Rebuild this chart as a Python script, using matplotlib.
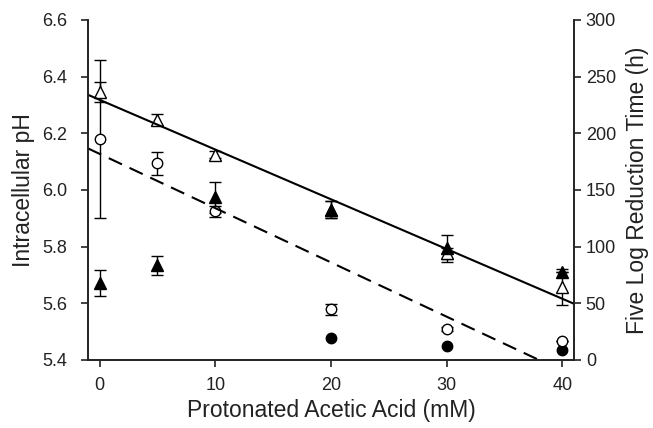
import matplotlib.pyplot as plt
import numpy as np

plt.rcParams['font.family'] = ['Liberation Sans', 'DejaVu Sans']

# acetic acid concentrations (mM)
conc = [0, 5, 10, 20, 30, 40]
conc_fc = [20, 30, 40]

# intracellular pH series
open_tri = [6.345, 6.248, 6.125, 5.93, 5.776, 5.657]
open_tri_err = [0.035, 0.02, 0.012, 0.03, 0.02, 0.063]
filled_tri = [5.672, 5.734, 5.975, 5.93, 5.794, 5.71]
filled_tri_err = [0.045, 0.033, 0.055, 0.03, 0.047, 0.0]
open_circ = [6.18, 6.094, 5.925, 5.579, 5.51, 5.468]
open_circ_err = [0.28, 0.04, 0.02, 0.02, 0.008, 0.0]
filled_circ = [5.479, 5.45, 5.437]

# regression lines for reduction time (h) : intercept, slope
solid_fit = (229.6, -4.39)
dashed_fit = (181.9, -4.79)

fig = plt.figure(figsize=(6.53, 4.28), dpi=100)
ax = fig.add_axes([88/653, 1-360/428, (574-88)/653, 340/428])
ax2 = ax.twinx()

ebkw = dict(ecolor='black', elinewidth=1, capsize=4, capthick=1, linestyle='none')
ax.errorbar(conc, open_circ, yerr=open_circ_err, marker='o', ms=7.5, mfc='white', mec='black', mew=1, **ebkw)
ax.errorbar(conc, open_tri, yerr=open_tri_err, marker='^', ms=8, mfc='white', mec='black', mew=1, **ebkw)
ax.errorbar(conc, filled_tri, yerr=filled_tri_err, marker='^', ms=8, mfc='black', mec='black', mew=1, **ebkw)
ax.plot(conc_fc, filled_circ, 'o', ms=7.5, color='black')

xl = np.array([-1, 41])
ax2.plot(xl, solid_fit[0] + solid_fit[1]*xl, color='black', lw=1.5)
ax2.plot(xl, dashed_fit[0] + dashed_fit[1]*xl, color='black', lw=1.5, dashes=(7, 4))

ax.set_xlim(-1, 41)
ax.set_ylim(5.4, 6.6)
ax2.set_ylim(0, 300)
ax.set_xticks([0, 10, 20, 30, 40])
ax.set_yticks(np.arange(5.4, 6.61, 0.2))
ax.set_yticklabels(['5.4', '5.6', '5.8', '6.0', '6.2', '6.4', '6.6'])
ax2.set_yticks(range(0, 301, 50))

for a in (ax, ax2):
    a.spines['top'].set_visible(False)
    for s in a.spines.values():
        s.set_linewidth(1.2)
        s.set_color('#222222')
    a.tick_params(direction='out', length=5, width=1.2, labelsize=13, colors='#222222')
ax.tick_params(axis='x', pad=7)
ax.tick_params(axis='y', pad=10)

ax.set_xlabel('Protonated Acetic Acid (mM)', fontsize=16.5, color='#222222', labelpad=4)
ax.set_ylabel('Intracellular pH', fontsize=16.5, color='#222222', labelpad=5)
ax2.set_ylabel('Five Log Reduction Time (h)', fontsize=16.5, color='#222222', labelpad=7)

fig.savefig('out.png', dpi=100)
